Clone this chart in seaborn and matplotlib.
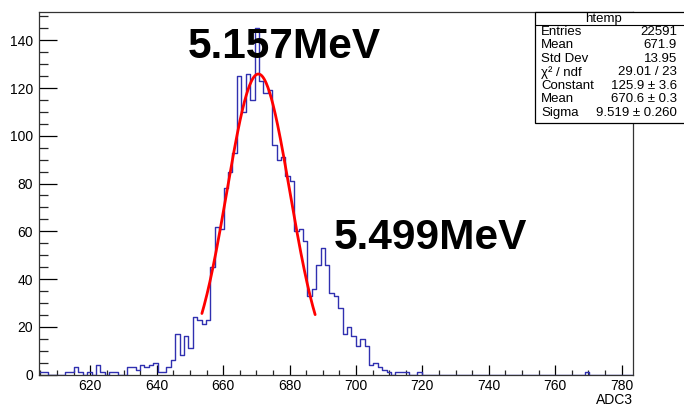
import numpy as np
import pandas as pd
import matplotlib
matplotlib.use('Agg')
import matplotlib.pyplot as plt
from matplotlib.patches import Rectangle
from matplotlib.ticker import MultipleLocator
import seaborn as sns

# histogram binning (ADC3 channel)
x_min, x_max, n_bins = 604.46, 783.5, 135

# counts per bin
bin_counts = [
    1, 1, 0, 0, 0, 0, 1, 1, 3, 1,
    0, 1, 0, 4, 1, 0, 1, 1, 0, 0,
    3, 3, 2, 4, 3, 4, 5, 1, 1, 3,
    6, 17, 8, 16, 11, 24, 23, 21, 23, 45,
    62, 61, 78, 85, 93, 125, 110, 126, 115, 145,
    123, 118, 119, 96, 90, 91, 83, 81, 60, 61,
    56, 33, 36, 46, 53, 46, 34, 33, 28, 17,
    20, 16, 12, 15, 12, 4, 5, 3, 2, 1,
    0, 1, 1, 1, 0, 0, 1, 0, 0, 0,
    0, 0, 0, 0, 0, 0, 0, 0, 0, 0,
    0, 0, 0, 0, 0, 0, 0, 0, 0, 0,
    0, 0, 0, 0, 0, 0, 0, 0, 0, 0,
    0, 0, 0, 0, 1, 0, 0, 0, 0, 0,
    0, 0, 0, 0, 0,
]

# gaussian fit result (from the stats box)
fit_const, fit_mean, fit_sigma = 125.9, 670.6, 9.519
fit_lo, fit_hi = 653.6, 687.7

stats_labels = ['Entries', 'Mean', 'Std Dev', 'χ² / ndf', 'Constant', 'Mean', 'Sigma']
stats_values = ['22591', '671.9', '13.95', '29.01 / 23', '125.9 ± 3.6', '670.6 ± 0.3', '9.519 ± 0.260']

peak_labels = ['5.157MeV', '5.499MeV']

W, H = 684, 411

sns.set_style('ticks')
plt.rcParams['font.family'] = ['Liberation Sans', 'DejaVu Sans']

fig = plt.figure(figsize=(W / 100, H / 100), dpi=100)
ax = fig.add_axes([38.7 / W, 1 - 374.5 / H, (633.3 - 38.7) / W, (374.5 - 11.7) / H])

edges = np.linspace(x_min, x_max, n_bins + 1)
centers = 0.5 * (edges[:-1] + edges[1:])
df = pd.DataFrame({'adc': centers, 'n': bin_counts})

sns.histplot(data=df, x='adc', weights='n', bins=n_bins, binrange=(x_min, x_max),
             element='step', fill=False, color='#3030b0', linewidth=1.0, ax=ax)

# fit curve
xf = np.linspace(fit_lo, fit_hi, 200)
yf = fit_const * np.exp(-0.5 * ((xf - fit_mean) / fit_sigma) ** 2)
sns.lineplot(x=xf, y=yf, color='#ff0000', linewidth=2.0, ax=ax)

ax.set_xlim(x_min, x_max)
ax.set_ylim(0, 152)
ax.set_xlabel('')
ax.set_ylabel('')
ax.xaxis.set_minor_locator(MultipleLocator(5))
ax.yaxis.set_major_locator(MultipleLocator(20))
ax.yaxis.set_minor_locator(MultipleLocator(5))
ax.set_xticks(np.arange(620, 781, 20))
ax.tick_params(axis='x', which='major', direction='in', length=7.2, width=0.9,
               labelsize=10, pad=3, colors='black')
ax.tick_params(axis='x', which='minor', direction='in', length=3.6, width=0.9)
ax.tick_params(axis='y', which='major', direction='in', length=13, width=0.9,
               labelsize=10, pad=4, colors='black')
ax.tick_params(axis='y', which='minor', direction='in', length=6.8, width=0.9)
for s in ax.spines.values():
    s.set_visible(True)
    s.set_linewidth(0.9)
    s.set_color('#333333')

fig.text(633 / W, 1 - 400 / H, 'ADC3', ha='right', va='center', fontsize=10,
         color='black')

# peak annotations
fig.text(188 / W, 1 - 58 / H, peak_labels[0], ha='left', va='baseline',
         fontsize=30.5, fontweight='bold', color='black')
fig.text(334 / W, 1 - 249 / H, peak_labels[1], ha='left', va='baseline',
         fontsize=30.5, fontweight='bold', color='black')

# stats box
bx0, by0, bx1, by1 = 535, 12, 692, 123
fig.patches.append(Rectangle((bx0 / W, 1 - by1 / H), (bx1 - bx0) / W, (by1 - by0) / H,
                             transform=fig.transFigure, facecolor='white',
                             edgecolor='black', linewidth=0.9, zorder=5))
fig.lines.append(plt.Line2D([bx0 / W, bx1 / W], [1 - 25 / H, 1 - 25 / H],
                            transform=fig.transFigure, color='black', lw=0.8, zorder=6))
fig.text(((bx0 + 633) / 2 + 20) / W, 1 - 19 / H, 'htemp', ha='center', va='center',
         fontsize=9.5, zorder=7, color='black')
for i, (lab, val) in enumerate(zip(stats_labels, stats_values)):
    yy = 1 - (31.7 + i * 13.5) / H
    fig.text(541 / W, yy, lab, ha='left', va='center', fontsize=9.5, zorder=7,
             color='black')
    fig.text(677 / W, yy, val, ha='right', va='center', fontsize=9.5, zorder=7,
             color='black')

fig.savefig('out.png', dpi=100, facecolor='white')
